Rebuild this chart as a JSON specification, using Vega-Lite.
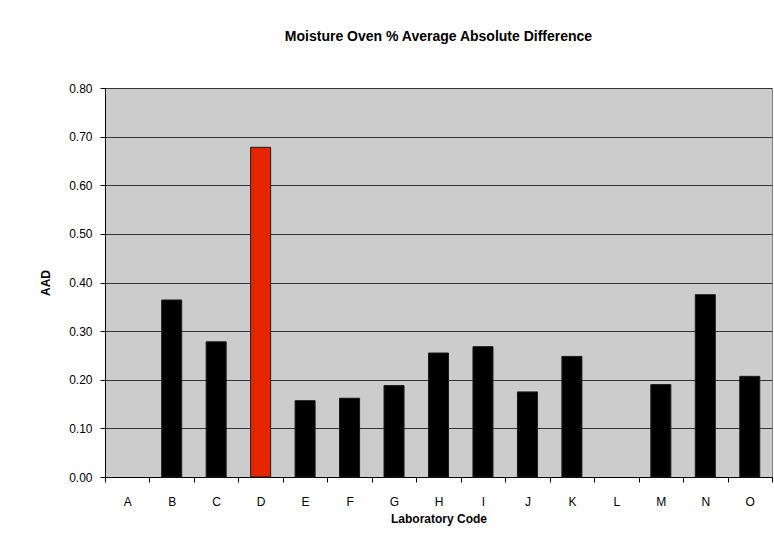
{
  "$schema": "https://vega.github.io/schema/vega-lite/v6.json",
  "width": 667,
  "height": 389,
  "autosize": {"type": "none"},
  "padding": {"left": 105, "top": 88, "right": 2, "bottom": 78},
  "background": "white",
  "title": {
    "text": "Moisture Oven % Average Absolute Difference",
    "font": "Liberation Sans",
    "fontSize": 14,
    "fontWeight": "bold",
    "color": "black",
    "frame": "group",
    "anchor": "middle",
    "offset": 38
  },
  "config": {
    "view": {"fill": "#cccccc", "stroke": "#808080", "strokeWidth": 1},
    "font": "Liberation Sans"
  },
  "data": {
    "values": [
      {"lab": "A", "aad": null, "flag": "normal"},
      {"lab": "B", "aad": 0.364, "flag": "normal"},
      {"lab": "C", "aad": 0.278, "flag": "normal"},
      {"lab": "D", "aad": 0.678, "flag": "outlier"},
      {"lab": "E", "aad": 0.157, "flag": "normal"},
      {"lab": "F", "aad": 0.162, "flag": "normal"},
      {"lab": "G", "aad": 0.188, "flag": "normal"},
      {"lab": "H", "aad": 0.255, "flag": "normal"},
      {"lab": "I", "aad": 0.268, "flag": "normal"},
      {"lab": "J", "aad": 0.175, "flag": "normal"},
      {"lab": "K", "aad": 0.248, "flag": "normal"},
      {"lab": "L", "aad": null, "flag": "normal"},
      {"lab": "M", "aad": 0.190, "flag": "normal"},
      {"lab": "N", "aad": 0.375, "flag": "normal"},
      {"lab": "O", "aad": 0.207, "flag": "normal"}
    ]
  },
  "mark": {"type": "bar", "stroke": "#1a1a1a", "strokeWidth": 1, "width": {"band": 0.45}},
  "encoding": {
    "x": {
      "field": "lab",
      "type": "nominal",
      "sort": ["A","B","C","D","E","F","G","H","I","J","K","L","M","N","O"],
      "scale": {"paddingInner": 0, "paddingOuter": 0},
      "axis": {
        "title": "Laboratory Code",
        "titleFont": "Liberation Sans",
        "titleFontSize": 12,
        "titleFontWeight": "bold",
        "titleColor": "black",
        "titlePadding": 6,
        "labelAngle": 0,
        "labelFont": "Liberation Sans",
        "labelFontSize": 12,
        "labelColor": "black",
        "labelPadding": 14,
        "tickBand": "extent",
        "tickSize": 5,
        "tickColor": "black",
        "domainColor": "black",
        "grid": false
      }
    },
    "y": {
      "field": "aad",
      "type": "quantitative",
      "scale": {"domain": [0, 0.8], "nice": false},
      "axis": {
        "title": "AAD",
        "titleFont": "Liberation Sans",
        "titleFontSize": 12,
        "titleFontWeight": "bold",
        "titleColor": "black",
        "titlePadding": 16,
        "values": [0, 0.1, 0.2, 0.3, 0.4, 0.5, 0.6, 0.7, 0.8],
        "format": ".2f",
        "labelFont": "Liberation Sans",
        "labelFontSize": 12,
        "labelColor": "black",
        "labelPadding": 8,
        "tickSize": 5,
        "tickColor": "black",
        "domainColor": "black",
        "grid": true,
        "gridColor": "#333333",
        "gridWidth": 1
      }
    },
    "color": {
      "field": "flag",
      "type": "nominal",
      "scale": {"domain": ["normal", "outlier"], "range": ["#000000", "#e52600"]},
      "legend": null
    }
  }
}
